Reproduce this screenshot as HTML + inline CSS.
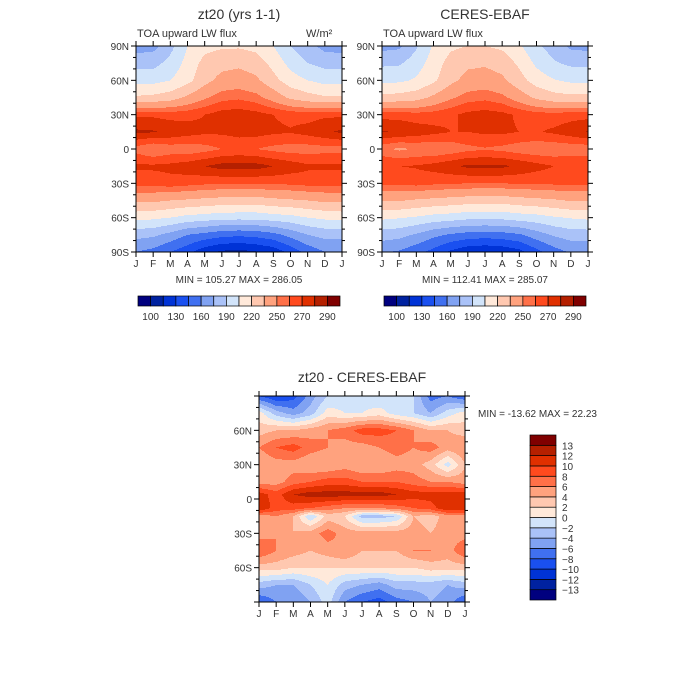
<!DOCTYPE html>
<html><head><meta charset="utf-8"><style>
body{margin:0;background:#fff;width:700px;height:700px;overflow:hidden;position:relative;font-family:"Liberation Sans",sans-serif}
canvas{position:absolute;image-rendering:pixelated}
svg{position:absolute;left:0;top:0}
text{font-family:"Liberation Sans",sans-serif;fill:#333}
</style></head><body>
<canvas id="c1" width="206" height="206" style="left:136px;top:46px"></canvas>
<canvas id="c2" width="206" height="206" style="left:382px;top:46px"></canvas>
<canvas id="c3" width="206" height="206" style="left:259px;top:396px"></canvas>
<svg id="s" width="700" height="700"></svg>
<script>
const months=["J","F","M","A","M","J","J","A","S","O","N","D","J"];
const lats=[90,75,60,45,30,15,0,-15,-30,-45,-60,-75,-90];
const modelVals=[
[168,170,185,205,215,218,218,215,205,190,180,170,168],
[185,185,195,210,225,230,232,228,215,200,190,185,185],
[200,200,205,215,230,240,242,238,225,212,205,200,200],
[222,224,228,238,248,256,258,254,244,232,226,222,222],
[268,268,266,267,270,275,276,274,270,267,266,268,268],
[282,281,278,275,272,272,274,274,272,271,274,278,282],
[256,250,254,253,256,260,262,260,257,255,255,256,256],
[272,272,273,276,280,284,284,284,280,276,272,272,272],
[264,264,266,264,262,261,261,261,262,262,264,264,264],
[238,238,235,233,231,229,228,228,231,233,235,238,238],
[210,208,205,200,198,195,195,195,198,200,205,208,210],
[180,178,170,160,155,150,148,150,155,165,175,180,180],
[160,155,145,135,120,112,110,114,120,135,150,160,160]];
const ceresVals=[
[170,172,188,207,217,220,220,217,207,193,183,172,170],
[187,188,198,212,226,232,233,229,217,202,192,187,187],
[202,202,207,217,231,240,242,238,226,213,206,202,202],
[224,226,229,238,248,255,257,253,243,232,226,224,224],
[266,266,264,265,268,273,275,273,268,265,264,266,266],
[281,279,276,273,270,270,272,272,270,269,272,276,281],
[253,248,251,250,253,257,259,257,254,252,252,253,253],
[270,270,271,274,278,282,282,282,278,274,270,270,270],
[262,262,264,262,261,260,260,260,261,261,262,262,262],
[236,236,233,231,229,227,226,226,229,231,233,236,236],
[208,206,203,199,197,194,194,194,197,199,203,206,208],
[182,180,173,164,158,154,152,154,158,168,177,182,182],
[162,158,150,140,127,118,116,118,125,140,153,162,162]];
const diffLats=[90,75,60,45,30,15,4,-8,-15,-30,-45,-60,-75,-90];
const diffVals=[
[-8,-10,-9,-5,-2,-1,-1,-2,-1,-2,-7,-6,-8],
[1,-3,-5,-3,1,0,0,1,-1,-2,-4,-1,1],
[3,4,4,5,6,7,9,9,8,6,4,4,3],
[6,8,9,7,6,5,5,6,7,6,7,5,6],
[4,5,5,4,4,5,4,4,5,5,3,-1,4],
[5,5,7,8,9,9,8,8,8,7,6,6,5],
[11,9,12,13,13,13,13,13,12,11,11,11,11],
[12,9,9,8,7,6,6,6,7,8,9,12,12],
[5,6,4,-2,3,2,-3,-3,-2,4,3,5,5],
[5,6,4,5,7,5,5,5,5,5,4,5,5],
[8,6,5,4,5,6,4,4,4,6,6,5,8],
[3,3,2,2,2,2,2,2,2,2,3,3,3],
[-3,-4,-4,-2,0,-3,-4,-5,-3,-3,-3,-4,-3],
[-8,-6,-6,-4,-1,-6,-8,-9,-7,-6,-4,-5,-8]];
const absLevels=[100,115,130,145,160,175,190,205,220,235,250,260,270,280,290];
const absTickLabels=["100","130","160","190","220","250","270","290"];
const diffLevels=[-13,-12,-10,-8,-6,-4,-2,0,2,4,6,8,10,12,13];
const diffTickLabels=["-13","-12","-10","-8","-6","-4","-2","0","2","4","6","8","10","12","13"];
const colors=["#00007f","#0022a0","#0033d6","#1a50f0","#4070f0","#80a2f2","#aac2f8","#d2e4fa","#ffe9da","#ffc8b0","#ffa27e","#ff7048","#ff4a1e","#e03000","#b52000","#800000"];
function hex(c){return [parseInt(c.slice(1,3),16),parseInt(c.slice(3,5),16),parseInt(c.slice(5,7),16)];}
const rgb=colors.map(hex);
function draw(id,vals,latArr,levels){
 const cv=document.getElementById(id),ctx=cv.getContext('2d'),W=206,H=206,img=ctx.createImageData(W,H);
 for(let y=0;y<H;y++){const lat=90-180*(y+0.5)/H;
  let r=0;while(r<latArr.length-2&&latArr[r+1]>lat)r++;
  const ty=(latArr[r]-lat)/(latArr[r]-latArr[r+1]);
  for(let x=0;x<W;x++){const m=12*(x+0.5)/W,c=Math.min(11,Math.floor(m)),tx=m-c;
   const v=(1-ty)*((1-tx)*vals[r][c]+tx*vals[r][c+1])+ty*((1-tx)*vals[r+1][c]+tx*vals[r+1][c+1]);
   let k=0;while(k<levels.length&&v>=levels[k])k++;
   const col=rgb[k],i=(y*W+x)*4;img.data[i]=col[0];img.data[i+1]=col[1];img.data[i+2]=col[2];img.data[i+3]=255;}}
 ctx.putImageData(img,0,0);}
draw('c1',modelVals,lats,absLevels);
draw('c2',ceresVals,lats,absLevels);
draw('c3',diffVals,diffLats,diffLevels);
const s=document.getElementById('s'),NS='http://www.w3.org/2000/svg';
function el(t,a,txt){const e=document.createElementNS(NS,t);for(const k in a)e.setAttribute(k,a[k]);if(txt!==undefined)e.textContent=txt;s.appendChild(e);return e;}
function panel(px,py,latLabels,pfx){
 const f=el('rect',{x:px,y:py,width:206,height:206,fill:'none',stroke:'#000','stroke-width':1});
 
 
 months.forEach((m,i)=>{const x=px+206*i/12;
  el('line',{x1:x,y1:py+206,x2:x,y2:py+211,stroke:'#000'});el('line',{x1:x,y1:py,x2:x,y2:py-5,stroke:'#000'});
  const t=el('text',{x:x,y:py+221,'font-size':10,'text-anchor':'middle'},m);
  
  });
 for(let l=-90;l<=90;l+=10){const y=py+206*(90-l)/180,len=l%30===0?5:3;
  el('line',{x1:px,y1:y,x2:px-len,y2:y,stroke:'#000'});el('line',{x1:px+206,y1:y,x2:px+206+len,y2:y,stroke:'#000'});}
 latLabels.forEach(l=>{const y=py+206*(90-l)/180;const txt=l===0?'0':Math.abs(l)+(l>0?'N':'S');
  const t=el('text',{x:px-7,y:y+4,'font-size':10,'text-anchor':'end'},txt);
  
  });}
panel(136,46,[90,60,30,0,-30,-60,-90],'model');
panel(382,46,[90,60,30,0,-30,-60,-90],'ceres');
panel(259,396,[60,30,0,-30,-60],'diff');
function label(a,txt,name){const t=el('text',a,txt);return t;}
label({x:239,y:19,'font-size':14,'text-anchor':'middle'},'zt20 (yrs 1-1)','model-title');
label({x:485,y:19,'font-size':14,'text-anchor':'middle'},'CERES-EBAF','ceres-title');
label({x:137,y:37,'font-size':11},'TOA upward LW flux','model-subtitle');
label({x:383,y:37,'font-size':11},'TOA upward LW flux','ceres-subtitle');
label({x:306,y:37,'font-size':11},'W/m²','units-label');
label({x:239,y:283,'font-size':10,'text-anchor':'middle'},'MIN = 105.27 MAX = 286.05','model-minmax');
label({x:485,y:283,'font-size':10,'text-anchor':'middle'},'MIN = 112.41 MAX = 285.07','ceres-minmax');
label({x:362,y:382,'font-size':14,'text-anchor':'middle'},'zt20 - CERES-EBAF','diff-title');
label({x:478,y:417,'font-size':10},'MIN = -13.62 MAX =  22.23','diff-minmax');
function hbar(x0,pfx){const w=202/16;
 colors.forEach((c,i)=>{const r=el('rect',{x:x0+i*w,y:296,width:w,height:10,fill:c,stroke:'#000','stroke-width':0.7});
  });
 absTickLabels.forEach((t,i)=>{const tt=el('text',{x:x0+w*(1+2*i),y:320,'font-size':10,'text-anchor':'middle'},t);
  });}
hbar(138,'model');hbar(384,'ceres');
const bh=165/16;
colors.forEach((c,i)=>{const r=el('rect',{x:530,y:600-(i+1)*bh,width:26,height:bh,fill:c,stroke:'#000','stroke-width':0.7});
 });
diffTickLabels.forEach((t,i)=>{const tt=el('text',{x:562,y:600-(i+1)*bh+4,'font-size':10},t.replace('-','−'));
 });
</script>
</body></html>
